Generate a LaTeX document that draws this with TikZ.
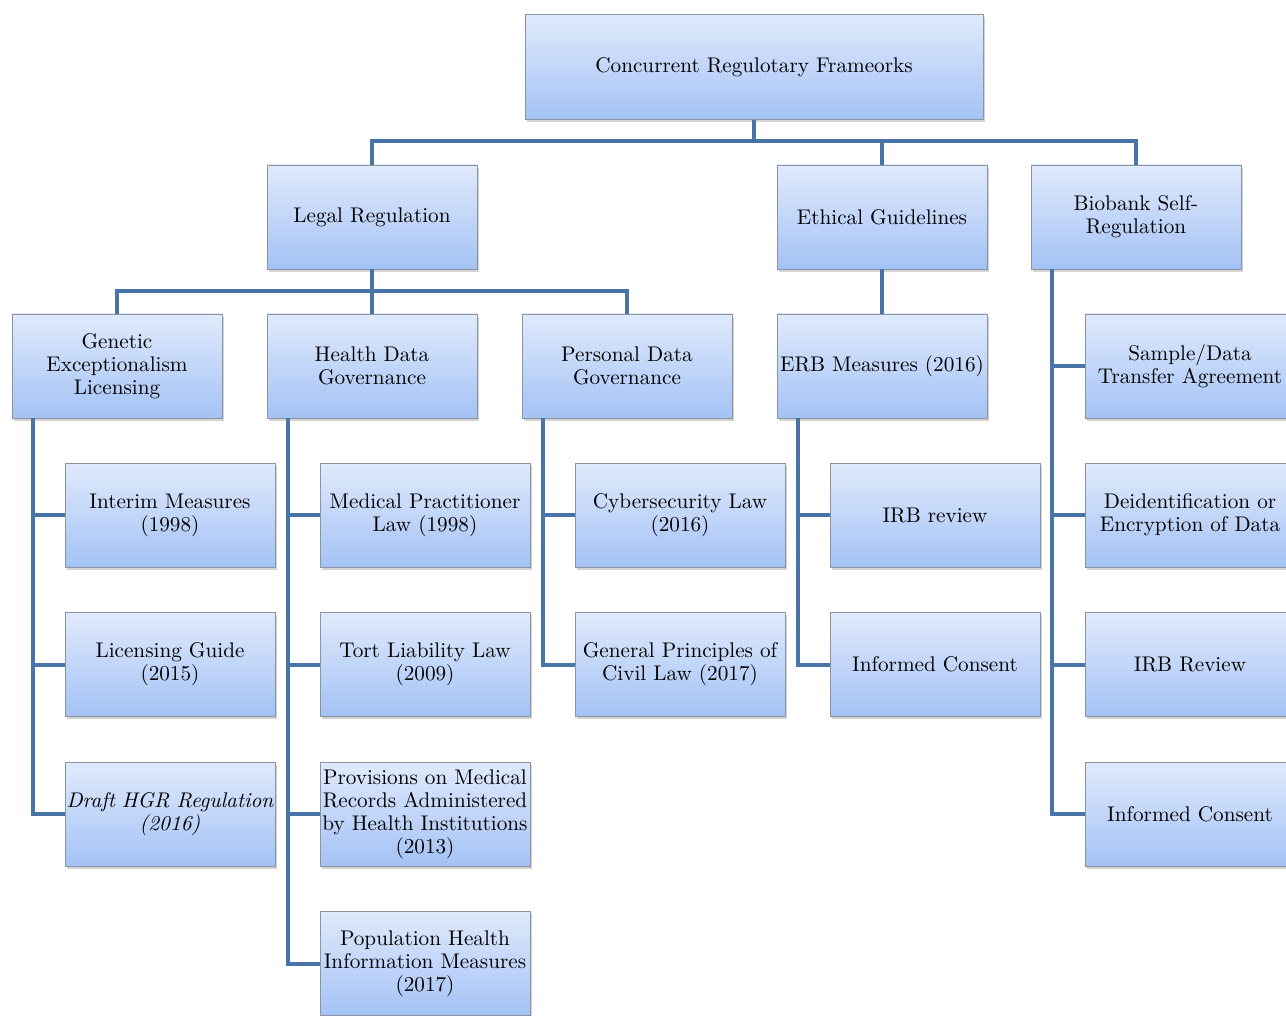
\documentclass[tikz,border=0pt]{standalone}
\usetikzlibrary{positioning,shadows}
\definecolor{boxtop}{RGB}{224,234,252}
\definecolor{boxbot}{RGB}{163,194,245}
\definecolor{boxline}{RGB}{140,148,160}
\definecolor{treeline}{RGB}{72,116,168}

\begin{document}
\begin{tikzpicture}[x=0.5pt,y=-0.5pt]
    \tikzset{block/.style= {draw=boxline, rectangle
    , top color=boxtop, bottom color=boxbot
    , minimum width=105pt, minimum height=52pt
    , text width=104pt, inner sep=0.5pt
    , align=center
    , font=\fontsize{10.6}{11.5}\selectfont
    , drop shadow={shadow xshift=1pt, shadow yshift=-1.3pt, opacity=0.35}
      },
    link/.style={draw=treeline, line width=2pt}
    }
\useasboundingbox (0,0) rectangle (1286,1016);
\clip (0,0) rectangle (1286,1016);

\node [block, minimum width=229pt, text width=225pt, minimum height=52.5pt] (root) at (754,67) {Concurrent Regulotary Frameorks};

\node [block] (legal) at (372,217) {Legal Regulation};
\node [block] (ethic) at (882,217) {Ethical Guidelines};
\node [block] (bio) at (1136,217) {Biobank Self-\\Regulation};

\node [block] (gen) at (117,366) {Genetic\\Exceptionalism\\Licensing};
\node [block, node distance=127.5pt, right of=gen] (hdg) {Health Data\\Governance};
\node [block, node distance=127.5pt, right of=hdg] (pdg) {Personal Data\\Governance};
\node [block, node distance=127.5pt, right of=pdg] (erb) {ERB Measures (2016)};
\node [block] (sda) at (1190,366) {Sample/Data\\Transfer Agreement};

% genetic exceptionalism
\node [block, node distance=74.5pt, below of=gen, xshift=26.5pt] (interim) {Interim Measures\\(1998)};
\node [block, node distance=74.75pt, below of=interim] (guide) {Licensing Guide\\(2015)};
\node [block, node distance=74.75pt, below of=guide, font=\fontsize{10.6}{11.5}\selectfont\itshape] (draft) {Draft HGR Regulation\\(2016)};

% health data
\node [block, node distance=74.5pt, below of=hdg, xshift=26.5pt] (medpr) {Medical Practitioner\\Law (1998)};
\node [block, node distance=74.75pt, below of=medpr] (tort) {Tort Liability Law\\(2009)};
\node [block, node distance=74.75pt, below of=tort] (medrec) {Provisions on Medical\\Records Administered\\by Health Institutions\\(2013)};
\node [block, node distance=74.75pt, below of=medrec] (pophi) {Population Health\\Information Measures\\(2017)};

% personal data
\node [block, node distance=74.5pt, below of=pdg, xshift=26.5pt] (cyber) {Cybersecurity Law\\(2016)};
\node [block, node distance=74.75pt, below of=cyber] (civil) {General Principles of\\Civil Law (2017)};

% erb
\node [block, node distance=74.5pt, below of=erb, xshift=26.5pt] (irb) {IRB review};
\node [block, node distance=74.75pt, below of=irb] (icerb) {Informed Consent};

% biobank
\node [block, node distance=74.5pt, below of=sda] (deid) {Deidentification or\\Encryption of Data};
\node [block, node distance=74.75pt, below of=deid] (irbbio) {IRB Review};
\node [block, node distance=74.75pt, below of=irbbio] (icbio) {Informed Consent};

\coordinate (bus0) at (0,141);
\coordinate (bus1) at (0,291);

 \path[link] (root.south) -- (root.south |- bus0) -| (legal.north);
 \path[link] (root.south |- bus0) -| (ethic.north);
 \path[link] (root.south |- bus0) -| (bio.north);
 \path[link] (legal.south) -- (legal.south |- bus1) -| (gen.north);
 \path[link] (legal.south |- bus1) -| (hdg.north);
 \path[link] (legal.south |- bus1) -| (pdg.north);
 \path[link] (ethic) -- (erb);

 \path[link] ([xshift=10.5pt]gen.south west) |- (interim.west);
 \path[link] ([xshift=10.5pt]gen.south west) |- (guide.west);
 \path[link] ([xshift=10.5pt]gen.south west) |- (draft.west);
 \path[link] ([xshift=10.5pt]hdg.south west) |- (medpr.west);
 \path[link] ([xshift=10.5pt]hdg.south west) |- (tort.west);
 \path[link] ([xshift=10.5pt]hdg.south west) |- (medrec.west);
 \path[link] ([xshift=10.5pt]hdg.south west) |- (pophi.west);
 \path[link] ([xshift=10.5pt]pdg.south west) |- (cyber.west);
 \path[link] ([xshift=10.5pt]pdg.south west) |- (civil.west);
 \path[link] ([xshift=10.5pt]erb.south west) |- (irb.west);
 \path[link] ([xshift=10.5pt]erb.south west) |- (icerb.west);
 \path[link] ([xshift=10.5pt]bio.south west) |- (sda.west);
 \path[link] ([xshift=10.5pt]bio.south west) |- (deid.west);
 \path[link] ([xshift=10.5pt]bio.south west) |- (irbbio.west);
 \path[link] ([xshift=10.5pt]bio.south west) |- (icbio.west);
\end{tikzpicture}
\end{document}
